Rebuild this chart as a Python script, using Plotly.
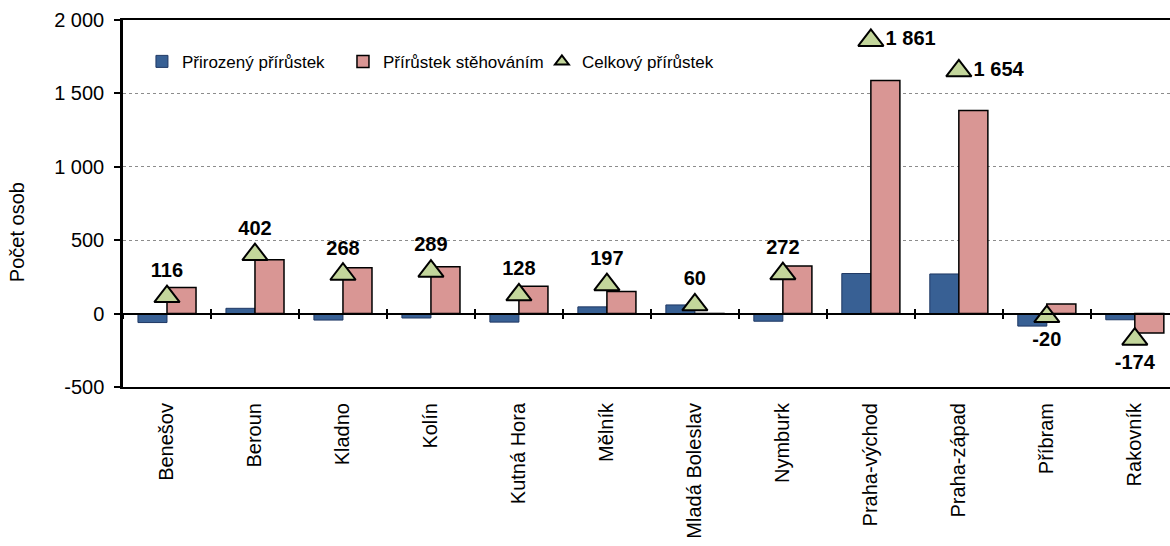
import plotly.graph_objects as go

categories = ["Benešov", "Beroun", "Kladno", "Kolín", "Kutná Hora", "Mělník",
              "Mladá Boleslav", "Nymburk", "Praha-východ", "Praha-západ",
              "Příbram", "Rakovník"]
natural = [-61, 36, -44, -30, -58, 46, 59, -52, 273, 270, -85, -42]
migration = [177, 366, 312, 319, 186, 151, 1, 324, 1588, 1384, 65, -132]
total = [116, 402, 268, 289, 128, 197, 60, 272, 1861, 1654, -20, -174]

series_names = ["Přirozený přírůstek", "Přírůstek stěhováním", "Celkový přírůstek"]
y_tickvals = [-500, 0, 500, 1000, 1500, 2000]
y_ticktext = ["-500", "0", "500", "1 000", "1 500", "2 000"]
y_title = "Počet osob"

FONT = "Arial, Liberation Sans, sans-serif"


def fmt(v):
    return f"{v:,}".replace(",", " ")


def label_pos(v):
    if v < 0:
        return "bottom center"
    if v > 1000:
        return "middle right"
    return "top center"


fig = go.Figure()
fig.add_trace(go.Bar(
    x=categories, y=natural, name=series_names[0], legend="legend",
    marker=dict(color="#386094", line=dict(color="#1f3864", width=1)),
))
fig.add_trace(go.Bar(
    x=categories, y=migration, name=series_names[1], legend="legend2",
    marker=dict(color="#D99694", line=dict(color="#000000", width=1.5)),
))
fig.add_trace(go.Scatter(
    x=categories, y=total, name=series_names[2], mode="markers+text",
    legend="legend3",
    marker=dict(symbol="triangle-up", size=22, color="#C3D69B",
                line=dict(color="#000000", width=2)),
    text=[fmt(v) for v in total],
    textposition=[label_pos(v) for v in total],
    textfont=dict(family=FONT, size=20, color="#000000", weight="bold"),
    cliponaxis=False,
))

# category-axis tick marks crossing the zero line
for ax in ("x2", "x3"):
    fig.add_trace(go.Scatter(x=categories, y=[0] * len(categories), xaxis=ax,
                             mode="markers", marker=dict(opacity=0),
                             showlegend=False, hoverinfo="skip"))

leg_common = dict(orientation="h", y=0.886, xanchor="left", yanchor="middle",
                  font=dict(size=17), bgcolor="rgba(0,0,0,0)", itemwidth=30)

XR = [-0.5, 11.4]
fig.update_layout(
    width=1170, height=546,
    margin=dict(l=123, r=0, t=20, b=159, autoexpand=False),
    paper_bgcolor="white", plot_bgcolor="white",
    font=dict(family=FONT, size=20, color="#000000"),
    barmode="group", bargap=0.34, bargroupgap=0,
    showlegend=True,
    legend=dict(x=0.0181, **leg_common),
    legend2=dict(x=0.2101, **leg_common),
    legend3=dict(x=0.4001, itemsizing="constant", **leg_common),
    xaxis=dict(type="category", categoryarray=categories, range=XR, automargin=False,
               showline=True, linecolor="#000000", linewidth=2, mirror=True,
               ticks="", tickangle=-90, showgrid=False,
               tickfont=dict(size=20), ticklabelstandoff=6),
    xaxis2=dict(type="category", categoryarray=categories, range=XR, automargin=False,
                overlaying="x", anchor="free", position=0.2, side="bottom",
                showline=True, linecolor="#000000", linewidth=1.5,
                ticks="outside", ticklen=5, tickwidth=1.5, tickcolor="#000000",
                tickson="boundaries", showticklabels=False, showgrid=False),
    xaxis3=dict(type="category", categoryarray=categories, range=XR, automargin=False,
                overlaying="x", anchor="free", position=0.2, side="bottom",
                showline=False,
                ticks="inside", ticklen=5, tickwidth=1.5, tickcolor="#000000",
                tickson="boundaries", showticklabels=False, showgrid=False),
    yaxis=dict(range=[-500, 2000], tickvals=y_tickvals, ticktext=y_ticktext,
               automargin=False,
               showline=True, linecolor="#000000", linewidth=2.5,
               ticks="outside", ticklen=6, tickwidth=2, tickcolor="#000000",
               showgrid=True, gridcolor="#8c8c8c", griddash="dot", gridwidth=1.2,
               zeroline=False, tickfont=dict(size=20), ticklabelstandoff=6),
    annotations=[dict(text=y_title, textangle=-90, xref="paper", yref="paper",
                      x=-0.1012, y=0.422, xanchor="center", yanchor="middle",
                      showarrow=False, font=dict(size=20))],
)

fig.write_html("out.html",
               config={"displayModeBar": False},
               post_script="document.body.style.margin='0';"
                           "document.body.style.overflow='hidden';")
